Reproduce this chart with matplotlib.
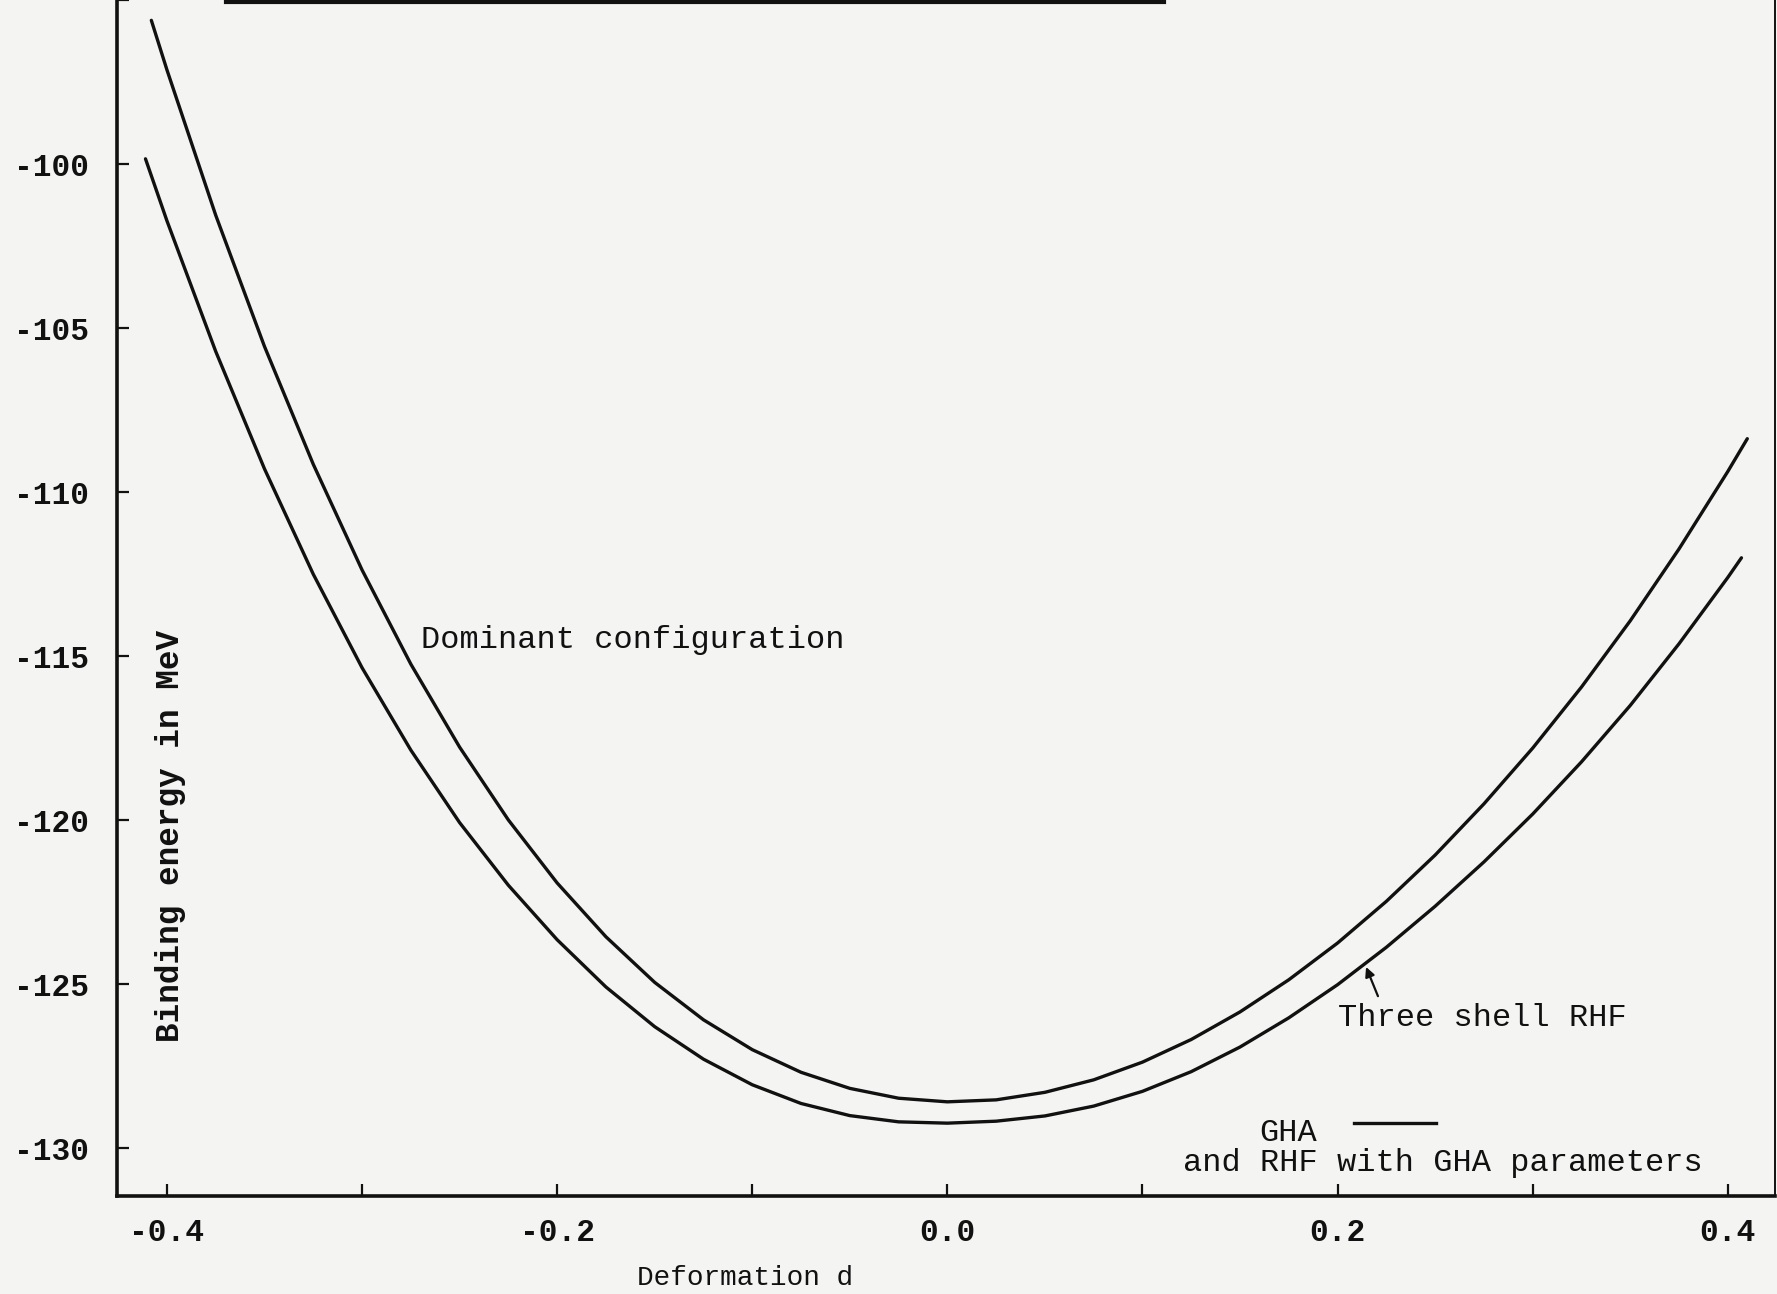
import matplotlib
matplotlib.use("Agg")
import matplotlib.pyplot as plt
from matplotlib.lines import Line2D

plt.rcParams["font.family"] = ["Liberation Mono", "DejaVu Sans Mono"]

# deformation d / binding energy (MeV)
upper_d = [-0.408, -0.400, -0.375, -0.350, -0.325, -0.300, -0.275, -0.250,
           -0.225, -0.200, -0.175, -0.150, -0.125, -0.100, -0.075, -0.050,
           -0.025, 0.000, 0.025, 0.050, 0.075, 0.100, 0.125, 0.150, 0.175,
           0.200, 0.225, 0.250, 0.275, 0.300, 0.325, 0.350, 0.375, 0.400, 0.410]
upper_e = [-95.62, -97.13, -101.56, -105.56, -109.15, -112.37, -115.24, -117.77,
           -119.99, -121.91, -123.55, -124.94, -126.08, -126.99, -127.68, -128.17,
           -128.47, -128.58, -128.52, -128.29, -127.91, -127.37, -126.68, -125.84,
           -124.86, -123.74, -122.47, -121.06, -119.50, -117.80, -115.94, -113.92,
           -111.73, -109.37, -108.37]

lower_d = [-0.411, -0.400, -0.375, -0.350, -0.325, -0.300, -0.275, -0.250,
           -0.225, -0.200, -0.175, -0.150, -0.125, -0.100, -0.075, -0.050,
           -0.025, 0.000, 0.025, 0.050, 0.075, 0.100, 0.125, 0.150, 0.175,
           0.200, 0.225, 0.250, 0.275, 0.300, 0.325, 0.350, 0.375, 0.400, 0.407]
lower_e = [-99.84, -101.73, -105.71, -109.29, -112.50, -115.35, -117.86, -120.07,
           -121.98, -123.64, -125.08, -126.29, -127.28, -128.06, -128.63, -129.00,
           -129.19, -129.23, -129.17, -129.01, -128.71, -128.26, -127.66, -126.91,
           -126.02, -125.01, -123.87, -122.62, -121.27, -119.81, -118.22, -116.50,
           -114.62, -112.60, -112.00]

x_major = [-0.4, -0.2, 0.0, 0.2, 0.4]
x_minor = [-0.3, -0.1, 0.1, 0.3]
y_ticks = [-130, -125, -120, -115, -110, -105, -100, -95]
y_labels = ["-130", "-125", "-120", "-115", "-110", "-105", "-100", ""]

W, H = 1777, 1294
BG = "#f4f4f2"
INK = "#111111"


def px(x, y):
    # pixel position in the picture -> figure fraction
    return x / W, 1 - y / H


fig = plt.figure(figsize=(W / 100, H / 100), dpi=100, facecolor=BG)
ax = fig.add_axes([117 / W, 1 - 1196 / H, (1775 - 117) / W, 1196 / H])
ax.set_facecolor(BG)

ax.plot(upper_d, upper_e, color=INK, lw=2.4, solid_capstyle="round",
        solid_joinstyle="round")
ax.plot(lower_d, lower_e, color=INK, lw=2.4, solid_capstyle="round",
        solid_joinstyle="round")

ax.set_xlim(-0.4256, 0.4242)
ax.set_ylim(-131.45, -95.04)

ax.spines["top"].set_visible(False)
for s in ("left", "bottom"):
    ax.spines[s].set_linewidth(2.6)
    ax.spines[s].set_color(INK)
ax.spines["right"].set_linewidth(1.4)
ax.spines["right"].set_color(INK)

ax.set_xticks(x_major)
ax.set_xticklabels([f"{v:.1f}" for v in x_major])
ax.set_xticks(x_minor, minor=True)
ax.set_yticks(y_ticks)
ax.set_yticklabels(y_labels)

ax.tick_params(axis="both", which="both", direction="in", color=INK, width=1.6,
               labelsize=22.5, labelcolor=INK)
ax.tick_params(axis="x", which="both", length=9, pad=16)
ax.tick_params(axis="y", which="major", length=8.5, pad=20)
ax.tick_params(right=False, top=False)
for lab in ax.get_xticklabels() + ax.get_yticklabels():
    lab.set_fontweight("bold")

# labels and notes placed as on the original sheet
fig.text(*px(170, 836), "Binding energy in MeV", rotation=90, ha="center",
         va="center", fontsize=23.5, fontweight="bold", color=INK)
fig.text(*px(637, 1278), "Deformation d", ha="left", va="center",
         fontsize=20, color=INK)
fig.text(*px(421, 640), "Dominant configuration", ha="left", va="center",
         fontsize=23, color=INK)
fig.text(*px(1338, 1018), "Three shell RHF", ha="left", va="center",
         fontsize=23, color=INK)
fig.text(*px(1259, 1133), "GHA", ha="left", va="center", fontsize=23, color=INK)
fig.text(*px(1183, 1163), "and RHF with GHA parameters", ha="left", va="center",
         fontsize=23, color=INK)
fig.add_artist(Line2D([1354 / W, 1436 / W], [1 - 1123 / H, 1 - 1123 / H],
                      color=INK, lw=2.4))

ax.annotate("", xy=(0.2146, -124.47), xytext=(0.2207, -125.36),
            arrowprops=dict(arrowstyle="-|>", color=INK, lw=1.6, mutation_scale=14,
                            shrinkA=0, shrinkB=0))

# cut-off rule along the top edge of the scan
fig.add_artist(Line2D([226 / W, 1164 / W], [1 - 2 / H, 1 - 2 / H], color=INK, lw=3))

fig.savefig("out.png", dpi=100, facecolor=BG)
